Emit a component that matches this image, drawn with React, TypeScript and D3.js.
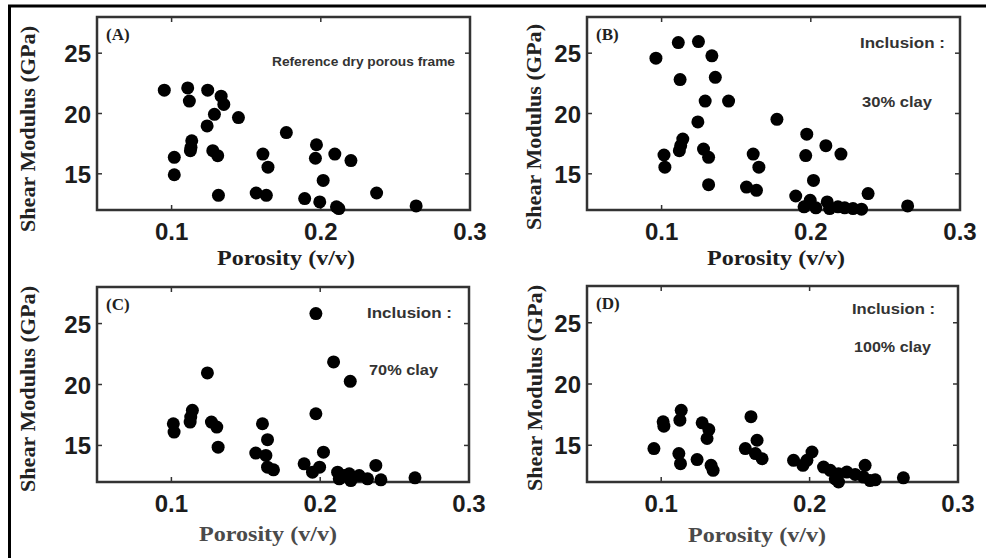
import React from "react";
import * as d3 from "d3";

// ---- data (porosity v/v, shear modulus GPa) ----
const porosityA = [0.0951,0.1108,0.1119,0.1242,0.1332,0.135,0.1287,0.1448,0.1238,0.1135,0.113,0.1126,0.1018,0.1018,0.1276,0.1309,0.1314,0.1612,0.1646,0.1567,0.1635,0.1769,0.1971,0.1964,0.2094,0.2202,0.2016,0.1892,0.1993,0.2105,0.2121,0.2374,0.2639];
const shearA = [21.93,22.12,21.03,21.93,21.44,20.75,19.93,19.66,18.97,17.74,17.19,16.92,16.37,14.92,16.92,16.5,13.22,16.64,15.55,13.41,13.22,18.42,17.41,16.29,16.64,16.1,14.45,12.95,12.67,12.26,12.12,13.41,12.34];

const porosityB = [0.0962,0.1112,0.1247,0.1337,0.1124,0.136,0.1292,0.1449,0.1243,0.1773,0.1142,0.1128,0.1119,0.1016,0.1022,0.1281,0.1315,0.1315,0.1614,0.1652,0.1569,0.1636,0.1973,0.1966,0.2101,0.2202,0.2018,0.1899,0.1996,0.1955,0.211,0.2126,0.2182,0.2227,0.2283,0.234,0.2384,0.2649,0.2034];
const shearB = [24.59,25.88,25.96,24.78,22.81,23.0,21.03,21.03,19.3,19.52,17.88,17.33,16.92,16.56,15.55,17.05,16.37,14.1,16.64,15.55,13.9,13.63,18.29,16.51,17.33,16.64,14.45,13.16,12.81,12.26,12.67,12.12,12.26,12.18,12.12,12.07,13.36,12.34,12.18];

const porosityC = [0.1971,0.1242,0.209,0.2202,0.1971,0.1141,0.113,0.1126,0.1013,0.1018,0.1269,0.1305,0.1314,0.1612,0.1646,0.1567,0.1635,0.1646,0.1686,0.2022,0.1892,0.1948,0.1996,0.2117,0.2128,0.2195,0.2206,0.2262,0.2318,0.2374,0.2408,0.2637,0.2161];
const shearC = [25.82,20.95,21.85,20.26,17.6,17.88,17.33,16.92,16.78,16.1,16.92,16.51,14.86,16.78,15.47,14.37,14.18,13.22,13.0,14.45,13.49,12.81,13.22,12.81,12.26,12.67,12.12,12.53,12.26,13.36,12.18,12.34,12.53];

const porosityD = [0.0951,0.1013,0.1018,0.1135,0.1126,0.1119,0.113,0.1242,0.1276,0.1321,0.1309,0.1336,0.135,0.1605,0.1646,0.1567,0.1635,0.168,0.1892,0.1955,0.2016,0.1982,0.2094,0.2139,0.2195,0.2195,0.2251,0.2307,0.2374,0.2363,0.2408,0.2442,0.2632,0.2173];
const shearD = [14.73,16.92,16.56,17.85,17.05,14.32,13.5,13.83,16.83,16.28,15.55,13.36,12.95,17.33,15.41,14.73,14.32,13.9,13.77,13.36,14.45,13.77,13.22,12.95,12.67,12.0,12.81,12.62,13.36,12.4,12.12,12.18,12.34,12.26];

const panelLabels = ["(A)", "(B)", "(C)", "(D)"];
const noteLine1 = ["Reference dry porous frame", "Inclusion :", "Inclusion :", "Inclusion :"];
const noteLine2 = ["", "30% clay", "70% clay", "100% clay"];
const xTicks = [0.1, 0.2, 0.3];
const yTicks = [15, 20, 25];
const xDomain = [0.05, 0.3];
const yDomain = [12, 28];
const xTitle = "Porosity (v/v)";
const yTitle = "Shear Modulus (GPa)";

// ---- layout ----
const panels = [
  { xs: porosityA, ys: shearA, left: 97, right: 470, top: 17, bottom: 210,
    yt: { x: 28, y: 129 }, xt: { x: 286, y: 265, c: "#1e1e1e" },
    note: { x: 272, y1: 66, y2: 0, len1: 183, len2: 0, size: 13.5 } },
  { xs: porosityB, ys: shearB, left: 587, right: 960, top: 17, bottom: 210,
    yt: { x: 534, y: 127 }, xt: { x: 776, y: 265, c: "#1e1e1e" },
    note: { x: 860, y1: 48, y2: 107, len1: 85, len2: 70, size: 15.5 } },
  { xs: porosityC, ys: shearC, left: 97, right: 469, top: 287, bottom: 482,
    yt: { x: 28, y: 389 }, xt: { x: 268, y: 541, c: "#4a4a4a" },
    note: { x: 367, y1: 318, y2: 375, len1: 85, len2: 69, size: 15.5 } },
  { xs: porosityD, ys: shearD, left: 587, right: 958, top: 286, bottom: 482,
    yt: { x: 535, y: 388 }, xt: { x: 757, y: 542, c: "#4a4a4a" },
    note: { x: 852, y1: 314, y2: 352, len1: 83, len2: 77, size: 15.5 } },
];

function Panel({ p, i }: { p: any; i: number }) {
  const x = d3.scaleLinear().domain(xDomain).range([p.left, p.right]);
  const y = d3.scaleLinear().domain(yDomain).range([p.bottom, p.top]);
  const boxColor = "#333";
  const tl = 5;
  return (
    <g>
      <rect x={p.left} y={p.top} width={p.right - p.left} height={p.bottom - p.top}
        fill="none" stroke={boxColor} strokeWidth={2.5} />
      {xTicks.map((t) => (
        <g key={"x" + t}>
          <line x1={x(t)} x2={x(t)} y1={p.bottom} y2={p.bottom - tl} stroke={boxColor} strokeWidth={1.5} />
          <line x1={x(t)} x2={x(t)} y1={p.top} y2={p.top + tl} stroke={boxColor} strokeWidth={1.5} />
          <text x={x(t)} y={p.bottom + 30} textAnchor="middle" fontFamily="Liberation Sans, Arial, sans-serif"
            fontWeight="bold" fontSize={24} fill="#1c1c1c">{t.toFixed(1)}</text>
        </g>
      ))}
      {yTicks.map((t) => (
        <g key={"y" + t}>
          <line x1={p.left} x2={p.left + tl} y1={y(t)} y2={y(t)} stroke={boxColor} strokeWidth={1.5} />
          <line x1={p.right} x2={p.right - tl} y1={y(t)} y2={y(t)} stroke={boxColor} strokeWidth={1.5} />
          <text x={p.left - 6} y={y(t) + 9} textAnchor="end" fontFamily="Liberation Sans, Arial, sans-serif"
            fontWeight="bold" fontSize={24} fill="#1c1c1c">{t}</text>
        </g>
      ))}
      {p.xs.map((v: number, k: number) => (
        <circle key={k} cx={x(v)} cy={y(p.ys[k])} r={6.5} fill="#000" />
      ))}
      <text x={p.left + 9} y={p.top + 23} fontFamily="Liberation Serif, Times New Roman, serif"
        fontWeight="bold" fontSize={17} fill="#222">{panelLabels[i]}</text>
      <text x={p.note.x} y={p.note.y1} fontFamily="Liberation Sans, Arial, sans-serif" fontSize={p.note.size}
        fontWeight="bold" fill="#333" textLength={p.note.len1} lengthAdjust="spacingAndGlyphs">{noteLine1[i]}</text>
      {noteLine2[i] && (
        <text x={p.note.x + 2} y={p.note.y2} fontFamily="Liberation Sans, Arial, sans-serif" fontSize={p.note.size}
          fontWeight="bold" fill="#333" textLength={p.note.len2} lengthAdjust="spacingAndGlyphs">{noteLine2[i]}</text>
      )}
      <text x={p.xt.x} y={p.xt.y} textAnchor="middle" fontFamily="Liberation Serif, Times New Roman, serif"
        fontWeight="bold" fontSize={22} fill={p.xt.c} textLength={138} lengthAdjust="spacingAndGlyphs">{xTitle}</text>
      <text transform={`translate(${p.yt.x + 7},${p.yt.y}) rotate(-90)`} textAnchor="middle"
        fontFamily="Liberation Serif, Times New Roman, serif" fontWeight="bold" fontSize={21} fill="#222"
        textLength={206} lengthAdjust="spacingAndGlyphs">{yTitle}</text>
    </g>
  );
}

export default function App() {
  return (
    <svg width={986} height={558} style={{ position: "absolute", left: 0, top: 0, background: "#fff" }}>
      <rect x={0} y={0} width={986} height={558} fill="#fff" />
      <line x1={8} x2={986} y1={6} y2={6} stroke="#000" strokeWidth={3} />
      <line x1={9.5} x2={9.5} y1={5} y2={558} stroke="#000" strokeWidth={3} />
      {panels.map((p, i) => (
        <Panel key={i} p={p} i={i} />
      ))}
    </svg>
  );
}
